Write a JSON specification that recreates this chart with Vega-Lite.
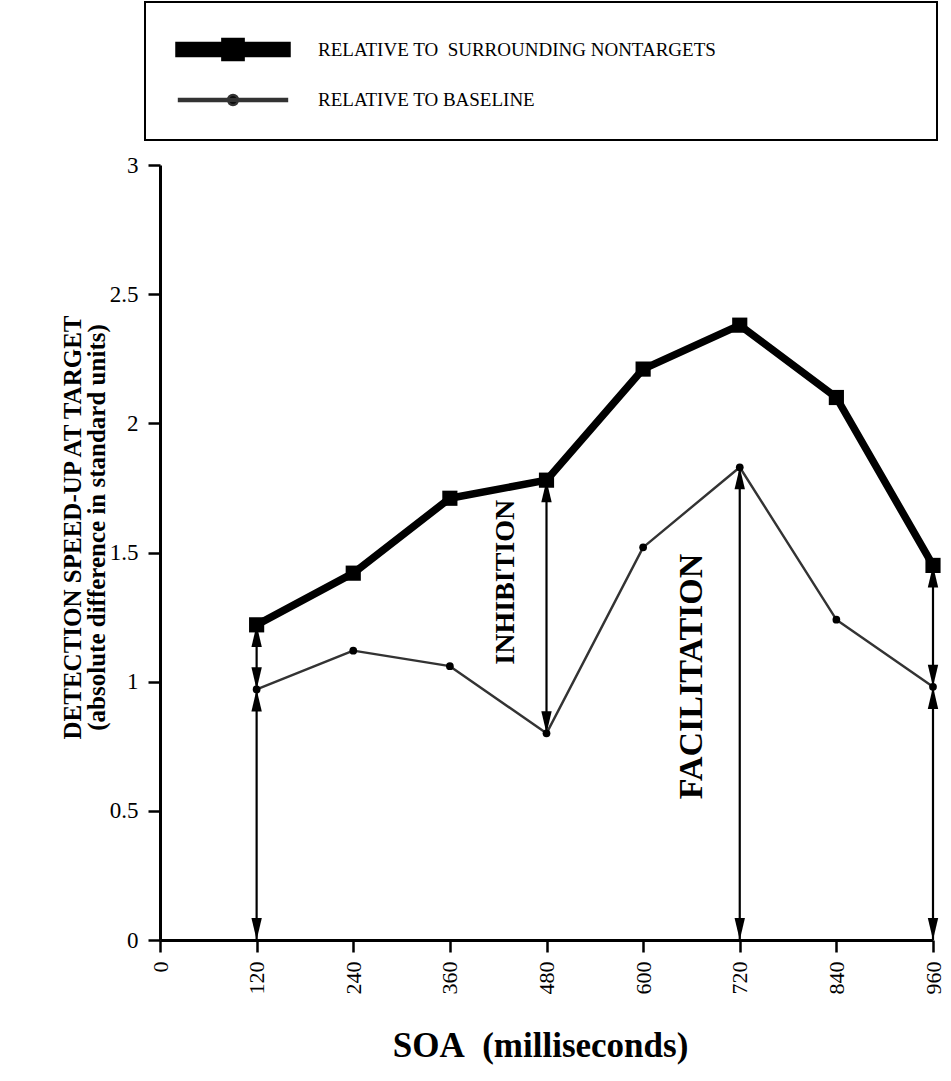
{
  "$schema": "https://vega.github.io/schema/vega-lite/v6.json",
  "width": 773,
  "height": 775,
  "autosize": {"type": "none"},
  "padding": {"left": 160, "top": 165, "right": 18, "bottom": 141},
  "background": "white",
  "config": {
    "font": "Liberation Serif",
    "view": {"stroke": null},
    "axis": {
      "domainColor": "black",
      "domainWidth": 3,
      "tickColor": "black",
      "tickWidth": 2.5,
      "tickSize": 12,
      "labelColor": "black",
      "labelFont": "Liberation Serif",
      "titleColor": "black",
      "titleFont": "Liberation Serif",
      "titleFontWeight": "bold",
      "grid": false
    }
  },
  "datasets": {
    "series": [
      {"soa": 120, "value": 1.22, "series": "RELATIVE TO  SURROUNDING NONTARGETS"},
      {"soa": 240, "value": 1.42, "series": "RELATIVE TO  SURROUNDING NONTARGETS"},
      {"soa": 360, "value": 1.71, "series": "RELATIVE TO  SURROUNDING NONTARGETS"},
      {"soa": 480, "value": 1.78, "series": "RELATIVE TO  SURROUNDING NONTARGETS"},
      {"soa": 600, "value": 2.21, "series": "RELATIVE TO  SURROUNDING NONTARGETS"},
      {"soa": 720, "value": 2.38, "series": "RELATIVE TO  SURROUNDING NONTARGETS"},
      {"soa": 840, "value": 2.10, "series": "RELATIVE TO  SURROUNDING NONTARGETS"},
      {"soa": 960, "value": 1.45, "series": "RELATIVE TO  SURROUNDING NONTARGETS"},
      {"soa": 120, "value": 0.97, "series": "RELATIVE TO BASELINE"},
      {"soa": 240, "value": 1.12, "series": "RELATIVE TO BASELINE"},
      {"soa": 360, "value": 1.06, "series": "RELATIVE TO BASELINE"},
      {"soa": 480, "value": 0.80, "series": "RELATIVE TO BASELINE"},
      {"soa": 600, "value": 1.52, "series": "RELATIVE TO BASELINE"},
      {"soa": 720, "value": 1.83, "series": "RELATIVE TO BASELINE"},
      {"soa": 840, "value": 1.24, "series": "RELATIVE TO BASELINE"},
      {"soa": 960, "value": 0.98, "series": "RELATIVE TO BASELINE"}
    ],
    "arrows": [
      {"soa": 120, "lo": 0, "hi": 0.97},
      {"soa": 120, "lo": 0.97, "hi": 1.22},
      {"soa": 480, "lo": 0.80, "hi": 1.78},
      {"soa": 720, "lo": 0, "hi": 1.83},
      {"soa": 960, "lo": 0, "hi": 0.98},
      {"soa": 960, "lo": 0.98, "hi": 1.45}
    ],
    "labels": [
      {"soa": 430, "value": 1.385, "label": "INHIBITION"},
      {"soa": 661, "value": 1.02, "label": "FACILITATION"}
    ]
  },
  "layer": [
    {
      "data": {"name": "arrows"},
      "mark": {"type": "rule", "color": "black", "strokeWidth": 2.2},
      "encoding": {
        "x": {"field": "soa", "type": "quantitative", "scale": {"domain": [0, 960], "nice": false},
          "axis": {
            "values": [0, 120, 240, 360, 480, 600, 720, 840, 960],
            "labelAngle": 270,
            "labelFontSize": 22,
            "labelPadding": 9,
            "title": "SOA\u00a0\u00a0(milliseconds)",
            "titleFontSize": 35,
            "titleX": 380,
            "titleY": 105,
            "titleBaseline": "middle"
          }},
        "y": {"field": "lo", "type": "quantitative", "scale": {"domain": [0, 3], "nice": false},
          "axis": {
            "values": [0, 0.5, 1, 1.5, 2, 2.5, 3],
            "format": ".1~f",
            "labelFontSize": 23,
            "labelPadding": 10,
            "title": ["DETECTION SPEED-UP AT TARGET", "(absolute difference in standard units)"],
            "titleFontSize": 25,
            "titleLineHeight": 24,
            "titleAngle": 270,
            "titleAlign": "center",
            "titleBaseline": "middle",
            "titleX": -88,
            "titleY": 362
          }},
        "y2": {"field": "hi"}
      }
    },
    {
      "data": {"name": "arrows"},
      "mark": {"type": "point", "filled": true, "color": "black", "opacity": 1, "size": 169, "shape": "M0,0L0.8,3.4L-0.8,3.4Z"},
      "encoding": {
        "x": {"field": "soa", "type": "quantitative"},
        "y": {"field": "hi", "type": "quantitative"}
      }
    },
    {
      "data": {"name": "arrows"},
      "mark": {"type": "point", "filled": true, "color": "black", "opacity": 1, "size": 169, "shape": "M0,0L0.8,-3.4L-0.8,-3.4Z"},
      "encoding": {
        "x": {"field": "soa", "type": "quantitative"},
        "y": {"field": "lo", "type": "quantitative"}
      }
    },
    {
      "data": {"name": "series"},
      "mark": {"type": "line", "strokeJoin": "round"},
      "encoding": {
        "x": {"field": "soa", "type": "quantitative"},
        "y": {"field": "value", "type": "quantitative"},
        "color": {
          "field": "series", "type": "nominal",
          "scale": {"domain": ["RELATIVE TO  SURROUNDING NONTARGETS", "RELATIVE TO BASELINE"], "range": ["black", "#333333"]},
          "legend": {
            "orient": "none",
            "legendX": -15,
            "legendY": -163,
            "title": null,
            "strokeColor": "black",
            "padding": 30,
            "labelFont": "Liberation Serif",
            "labelFontSize": 19,
            "labelColor": "black",
            "labelLimit": 1200,
            "labelOffset": 108,
            "labelExpr": "pad(replace(datum.label, '  ', '\u00a0\u00a0'), 75, '\u00a0', 'right') + '\u200b'",
            "symbolSize": 729,
            "symbolType": "stroke",
            "rowPadding": 12,
            "encode": {
              "symbols": {
                "update": {
                  "shape": {"signal": "datum.value === 'RELATIVE TO BASELINE' ? 'M-1,-0.075H7V0.075H-1Z M2.63,0A0.37,0.37 0 1,1 3.37,0A0.37,0.37 0 1,1 2.63,0Z' : 'M-1,-0.3H2.4V-0.6H3.6V-0.3H7V0.3H3.6V0.6H2.4V0.3H-1Z'"},
                  "fill": {"value": "black"},
                  "stroke": {"value": "black"},
                  "strokeWidth": {"value": 0}
                }
              },
              "legend": {
                "update": {
                  "strokeWidth": {"value": 2}
                }
              }
            }
          }
        },
        "strokeWidth": {
          "field": "series", "type": "nominal",
          "scale": {"domain": ["RELATIVE TO  SURROUNDING NONTARGETS", "RELATIVE TO BASELINE"], "range": [7.5, 2.4]},
          "legend": null
        }
      }
    },
    {
      "data": {"name": "series"},
      "mark": {"type": "point", "filled": true, "color": "black", "opacity": 1},
      "encoding": {
        "x": {"field": "soa", "type": "quantitative"},
        "y": {"field": "value", "type": "quantitative"},
        "shape": {
          "condition": {"test": "datum.series === 'RELATIVE TO BASELINE'", "value": "circle"},
          "value": "square"
        },
        "size": {
          "condition": {"test": "datum.series === 'RELATIVE TO BASELINE'", "value": 60},
          "value": 230
        }
      }
    },
    {
      "data": {"name": "labels"},
      "transform": [{"filter": "datum.label === 'INHIBITION'"}],
      "mark": {"type": "text", "angle": 270, "font": "Liberation Serif", "fontWeight": "bold", "fontSize": 28, "color": "black", "align": "center", "baseline": "middle"},
      "encoding": {
        "x": {"field": "soa", "type": "quantitative"},
        "y": {"field": "value", "type": "quantitative"},
        "text": {"field": "label"}
      }
    },
    {
      "data": {"name": "labels"},
      "transform": [{"filter": "datum.label === 'FACILITATION'"}],
      "mark": {"type": "text", "angle": 270, "font": "Liberation Serif", "fontWeight": "bold", "fontSize": 34, "color": "black", "align": "center", "baseline": "middle"},
      "encoding": {
        "x": {"field": "soa", "type": "quantitative"},
        "y": {"field": "value", "type": "quantitative"},
        "text": {"field": "label"}
      }
    }
  ]
}
